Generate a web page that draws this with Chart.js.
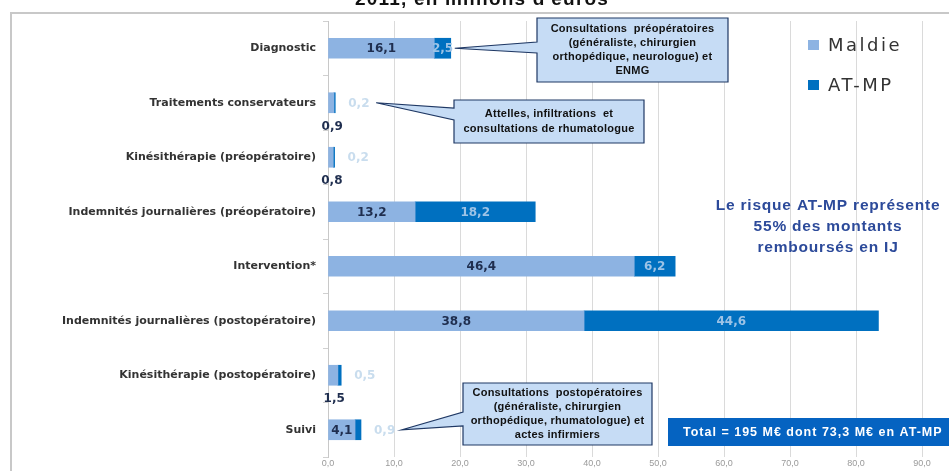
<!DOCTYPE html>
<html>
<head>
<meta charset="utf-8">
<script src="https://cdn.jsdelivr.net/npm/chart.js@4/dist/chart.umd.min.js"></script>
<style>
  html, body { margin: 0; padding: 0; background: #fff; }
  #wrap { position: relative; width: 949px; height: 471px; }
</style>
</head>
<body>
<div id="wrap"><canvas id="Frais-Chart" width="949" height="471"></canvas></div>
<script>
const categories = ["Diagnostic", "Traitements conservateurs", "Kinésithérapie (préopératoire)",
    "Indemnités journalières (préopératoire)", "Intervention*", "Indemnités journalières (postopératoire)",
    "Kinésithérapie (postopératoire)", "Suivi"];

const maladie = [16.1, 0.9, 0.8, 13.2, 46.4, 38.8, 1.5, 4.1];
const atmp = [2.5, 0.2, 0.2, 18.2, 6.2, 44.6, 0.5, 0.9];

const seriesNames = ["Maldie", "AT-MP"];
const colMaladie = "#8DB3E2";
const colAtmp = "#0070C0";

const callouts = [
  { row: 0, lines: ["Consultations  préopératoires", "(généraliste, chirurgien", "orthopédique, neurologue) et", "ENMG"],
    box: [537, 18, 191, 64], wedge: [42, 53] },
  { row: 1, lines: ["Attelles, infiltrations  et", "consultations de rhumatologue"],
    box: [454, 100, 190, 43], wedge: [108, 120] },
  { row: 7, lines: ["Consultations  postopératoires", "(généraliste, chirurgien", "orthopédique, rhumatologue) et", "actes infirmiers"],
    box: [463, 383, 189, 62], wedge: [412, 426] }
];

const fr = v => v.toFixed(1).replace(".", ",");

// labels, callouts, legend and notes
const decor = {
  id: "decor",
  beforeDraw(chart) {
    const ctx = chart.ctx;
    ctx.save();
    ctx.fillStyle = "#fff";
    ctx.fillRect(0, 0, chart.width, chart.height);
    ctx.strokeStyle = "#C8C8C8";
    ctx.lineWidth = 2;
    ctx.beginPath();
    ctx.moveTo(11, 471);
    ctx.lineTo(11, 13);
    ctx.lineTo(949, 13);
    ctx.stroke();
    ctx.restore();
  },
  afterDraw(chart) {
    const ctx = chart.ctx;
    const m0 = chart.getDatasetMeta(0).data;
    const m1 = chart.getDatasetMeta(1).data;
    ctx.save();

    // title (cut off at the top)
    ctx.fillStyle = "#111";
    ctx.font = "bold 19px 'Liberation Sans'";
    ctx.letterSpacing = "1.2px";
    ctx.textAlign = "center";
    ctx.textBaseline = "alphabetic";
    ctx.fillText("2011, en millions d'euros", 482, 5);
    ctx.letterSpacing = "0px";

    // value labels
    ctx.font = "bold 12px 'DejaVu Sans'";
    ctx.textBaseline = "middle";
    maladie.forEach((v, i) => {
      const b = m0[i];
      ctx.textAlign = "center";
      ctx.fillStyle = "#1F2E4F";
      if (v >= 3) {
        ctx.fillText(fr(v), (b.x + b.base) / 2, b.y + 1);
      } else {
        ctx.fillText(fr(v), (b.x + b.base) / 2 + 1, b.y + 24);
      }
    });
    atmp.forEach((v, i) => {
      const b = m1[i];
      if (v >= 2) {
        ctx.textAlign = "center";
        ctx.fillStyle = "#9DC3E6";
        ctx.fillText(fr(v), (b.x + b.base) / 2, b.y + 1);
      } else {
        ctx.textAlign = "left";
        ctx.fillStyle = "#C9DDEE";
        ctx.fillText(fr(v), b.x + 13, b.y + 1);
      }
    });

    // callouts
    callouts.forEach(c => {
      const b = m1[c.row];
      const small = atmp[c.row] < 2;
      const tipX = small ? b.x + 41 : b.x + 4;
      const tipY = b.y;
      const [x, y, w, h] = c.box;
      ctx.beginPath();
      ctx.moveTo(x, y);
      ctx.lineTo(x + w, y);
      ctx.lineTo(x + w, y + h);
      ctx.lineTo(x, y + h);
      ctx.lineTo(x, c.wedge[1]);
      ctx.lineTo(tipX, tipY);
      ctx.lineTo(x, c.wedge[0]);
      ctx.closePath();
      ctx.fillStyle = "#C6DCF5";
      ctx.fill();
      ctx.strokeStyle = "#1F3864";
      ctx.lineWidth = 1.2;
      ctx.stroke();
      ctx.fillStyle = "#111";
      ctx.font = "bold 11px 'Liberation Sans'";
      ctx.letterSpacing = "0.25px";
      ctx.textAlign = "center";
      ctx.textBaseline = "middle";
      const lh = 14.3;
      const top = y + h / 2 - (c.lines.length - 1) * lh / 2;
      c.lines.forEach((t, k) => ctx.fillText(t, x + w / 2, top + k * lh));
      ctx.letterSpacing = "0px";
    });

    // legend
    ctx.textAlign = "left";
    ctx.textBaseline = "middle";
    ctx.font = "18px 'DejaVu Sans'";
    ctx.letterSpacing = "2.5px";
    [[colMaladie, 45], [colAtmp, 85]].forEach((s, k) => {
      ctx.fillStyle = s[0];
      ctx.fillRect(808, s[1] - 5, 11, 10);
      ctx.fillStyle = "#333";
      ctx.fillText(seriesNames[k], 828, s[1] + 1);
    });

    // note
    ctx.fillStyle = "#2C4A9A";
    ctx.font = "bold 15.5px 'Liberation Sans'";
    ctx.letterSpacing = "0.8px";
    ctx.textAlign = "center";
    ["Le risque AT-MP représente", "55% des montants", "remboursés en IJ"]
      .forEach((t, k) => ctx.fillText(t, 828, 206 + k * 21));

    // total box
    ctx.fillStyle = "#0563C1";
    ctx.fillRect(668, 418, 281, 28);
    ctx.fillStyle = "#fff";
    ctx.font = "bold 12.5px 'Liberation Sans'";
    ctx.letterSpacing = "1px";
    ctx.textAlign = "left";
    ctx.fillText("Total = 195 M€ dont 73,3 M€ en AT-MP", 683, 433);

    ctx.restore();
  }
};

const data = {
  labels: categories,
  datasets: [
    { label: seriesNames[0], data: maladie, backgroundColor: colMaladie, barThickness: 20 },
    { label: seriesNames[1], data: atmp, backgroundColor: colAtmp, barThickness: 20 }
  ]
};

const config = {
  type: "bar",
  data: data,
  options: {
    indexAxis: "y",
    responsive: false,
    animation: false,
    layout: { padding: { top: 21, right: 27, left: 0, bottom: 0 } },
    plugins: { legend: { display: false }, tooltip: { enabled: false }, title: { display: false } },
    scales: {
      x: {
        stacked: true,
        min: 0,
        max: 90,
        ticks: {
          stepSize: 10,
          color: "#9A9A9A",
          font: { family: "'Liberation Sans'", size: 9 },
          padding: 1,
          callback: v => fr(v)
        },
        grid: { color: "#DADADA", drawTicks: false },
        border: { display: false },
        afterFit: s => { s.height = 14; }
      },
      y: {
        stacked: true,
        ticks: {
          color: "#333",
          font: { family: "'DejaVu Sans'", size: 11, weight: "bold" },
          padding: 7
        },
        grid: { drawOnChartArea: false, drawTicks: true, tickLength: 5, offset: true, color: "#D0D0D0" },
        border: { display: true, color: "#C8C8C8" },
        afterFit: s => { s.width = 328; }
      }
    }
  },
  plugins: [decor]
};

let myChart = new Chart(document.getElementById("Frais-Chart"), config);
</script>
</body>
</html>
